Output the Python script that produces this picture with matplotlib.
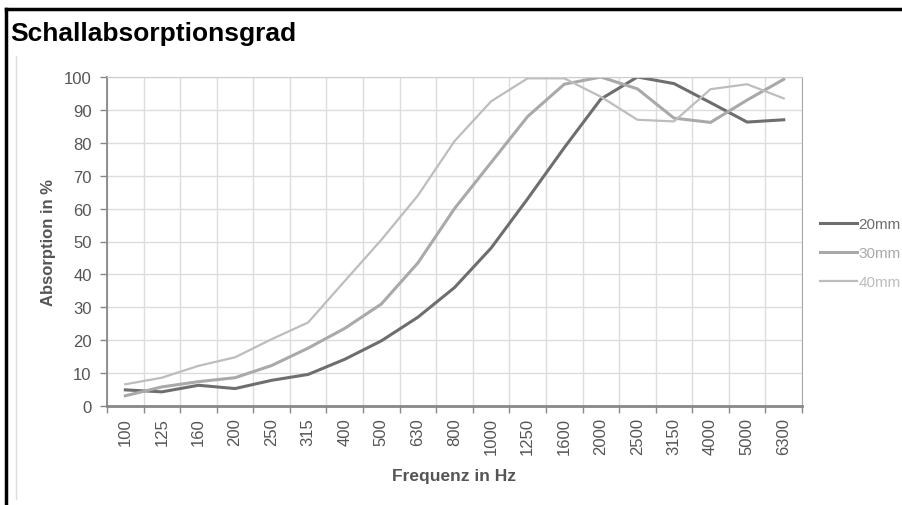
import matplotlib.pyplot as plt
from matplotlib.lines import Line2D

freqs = ["100", "125", "160", "200", "250", "315", "400", "500", "630", "800",
         "1000", "1250", "1600", "2000", "2500", "3150", "4000", "5000", "6300"]
mm20 = [4.9, 4.3, 6.3, 5.3, 7.8, 9.6, 14.2, 19.8, 27, 36, 48, 63, 78.5, 93.3, 100, 98, 92.2, 86.3, 87]
mm30 = [3.1, 5.8, 7.4, 8.6, 12.3, 17.6, 23.6, 31, 43.5, 60, 74, 88, 97.8, 100, 96.4, 87.5, 86.2, 93, 99.3]
mm40 = [6.6, 8.6, 12.2, 14.8, 20.3, 25.4, 38, 50.5, 64, 80.5, 92.6, 99.6, 99.6, 94, 87, 86.5, 96.3, 97.8, 93.5]

series = [("20mm", mm20, "#6e6e6e", 2.2),
          ("30mm", mm30, "#a9a9a9", 2.2),
          ("40mm", mm40, "#bdbdbd", 1.6)]

plt.rcParams['font.family'] = ['Liberation Sans', 'DejaVu Sans']

fig = plt.figure(figsize=(9.03, 5.06), dpi=100)
ax = fig.add_axes([107 / 903, 1 - 407 / 506, 695 / 903, 329 / 506])

x = list(range(len(freqs)))
for name, vals, col, lw in series:
    ax.plot(x, vals, color=col, lw=lw, label=name, solid_joinstyle='round')

ax.set_xlim(-0.5, len(freqs) - 0.5)
ax.set_ylim(0, 100)
ax.set_yticks(range(0, 101, 10))
ax.set_xticks(x)
ax.set_xticklabels(freqs, rotation=90)
ax.set_xticks([i - 0.5 for i in range(len(freqs) + 1)], minor=True)

ax.grid(True, axis='y', which='major', color='#dcdcdc', lw=1)
ax.grid(True, axis='x', which='minor', color='#dcdcdc', lw=1)
ax.set_axisbelow(True)

ax.tick_params(axis='x', which='major', length=0, pad=8, labelsize=12, labelcolor='#555555')
ax.tick_params(axis='x', which='minor', length=5, width=1, color='#888888')
ax.tick_params(axis='y', length=5, width=1, color='#888888', pad=6,
               labelsize=12, labelcolor='#555555')

ax.spines['left'].set_color('#888888')
ax.spines['left'].set_linewidth(1.3)
ax.spines['bottom'].set_color('#888888')
ax.spines['bottom'].set_linewidth(2)
ax.spines['top'].set_color('#cccccc')
ax.spines['right'].set_color('#aaaaaa')

ax.set_xlabel("Frequenz in Hz", fontsize=12.5, fontweight='bold', color='#555555', labelpad=10)
ax.set_ylabel("Absorption in %", fontsize=12, fontweight='bold', color='#555555', labelpad=6)

ax.legend(loc='upper left', bbox_to_anchor=(820 / 903, 1 - 218 / 506),
          bbox_transform=fig.transFigure, frameon=False, fontsize=11,
          handlelength=2.4, handletextpad=0.1, labelspacing=0.98,
          labelcolor='linecolor', borderaxespad=0, borderpad=0)

fig.text(10 / 903, 1 - 34 / 506, "Schallabsorptionsgrad", fontsize=19, fontweight='bold',
         va='center', ha='left', color='black')

# page frame
fig.add_artist(Line2D([6 / 903, 1], [1 - 10 / 506, 1 - 10 / 506], color='black', lw=2.5,
                      transform=fig.transFigure))
fig.add_artist(Line2D([6 / 903, 6 / 903], [0, 1 - 10 / 506], color='black', lw=2.5,
                      transform=fig.transFigure))
fig.add_artist(Line2D([16 / 903, 16 / 903], [1 - 500 / 506, 1 - 57 / 506], color='#dddddd',
                      lw=1, transform=fig.transFigure))

fig.savefig("out.png", dpi=100)
